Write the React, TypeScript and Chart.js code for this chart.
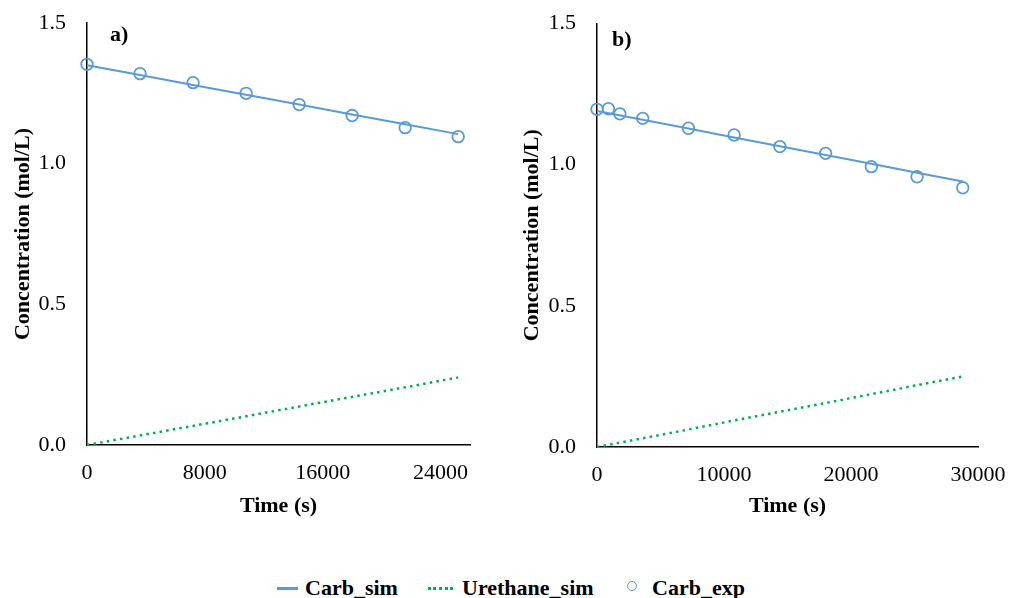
import React, { useEffect, useRef } from "react";
import { Chart, registerables } from "chart.js";

Chart.register(...registerables);

// Panel a)
const timeExpA = [0, 3600, 7200, 10800, 14400, 18000, 21600, 25200];
const carbExpA = [1.353, 1.32, 1.288, 1.25, 1.21, 1.171, 1.128, 1.096];
const timeSimA = [0, 3600, 7200, 10800, 14400, 18000, 21600, 25200];
const carbSimA = [1.35, 1.315, 1.28, 1.245, 1.21, 1.175, 1.14, 1.105];
const urethaneSimA = [0, 0.034, 0.068, 0.102, 0.137, 0.171, 0.205, 0.24];
const xTicksA = [0, 8000, 16000, 24000];

// Panel b)
const timeExpB = [0, 900, 1800, 3600, 7200, 10800, 14400, 18000, 21600, 25200, 28800];
const carbExpB = [1.196, 1.198, 1.18, 1.164, 1.129, 1.105, 1.064, 1.04, 0.993, 0.957, 0.918];
const timeSimB = [0, 3600, 7200, 10800, 14400, 18000, 21600, 25200, 28800];
const carbSimB = [1.19, 1.159, 1.128, 1.096, 1.065, 1.034, 1.003, 0.971, 0.94];
const urethaneSimB = [0, 0.031, 0.062, 0.094, 0.125, 0.156, 0.187, 0.219, 0.25];
const xTicksB = [0, 10000, 20000, 30000];

const yTicks = [0, 0.5, 1.0, 1.5];

const BLUE = "#5B9BD5";
const GREEN = "#00B050";
const FONT = "'Liberation Serif', 'Times New Roman', serif";

type PanelCfg = {
  timeExp: number[];
  carbExp: number[];
  timeSim: number[];
  carbSim: number[];
  urethane: number[];
  xTicks: number[];
  xMax: number;
  yAxisWidth: number;
  xAxisHeight: number;
  padTop: number;
  padRight: number;
  yTitlePad: number;
};

const toPts = (xs: number[], ys: number[]) => xs.map((x, i) => ({ x, y: ys[i] }));

function Panel({ cfg, left }: { cfg: PanelCfg; left: number }) {
  const ref = useRef<HTMLCanvasElement | null>(null);
  useEffect(() => {
    if (!ref.current) return;
    const chart = new Chart(ref.current, {
      type: "scatter",
      data: {
        datasets: [
          {
            label: "Carb_sim",
            data: toPts(cfg.timeSim, cfg.carbSim),
            showLine: true,
            borderColor: BLUE,
            borderWidth: 2,
            pointRadius: 0,
            clip: false as any,
          },
          {
            label: "Urethane_sim",
            data: toPts(cfg.timeSim, cfg.urethane),
            showLine: true,
            borderColor: GREEN,
            borderWidth: 2.5,
            borderDash: [2.5, 4.2],
            pointRadius: 0,
            clip: false as any,
          },
          {
            label: "Carb_exp",
            data: toPts(cfg.timeExp, cfg.carbExp),
            showLine: false,
            borderColor: BLUE,
            backgroundColor: "rgba(0,0,0,0)",
            pointBorderColor: BLUE,
            pointBackgroundColor: "rgba(0,0,0,0)",
            pointBorderWidth: 1.8,
            pointRadius: 5.8,
            clip: false as any,
          },
        ],
      },
      options: {
        animation: false,
        responsive: false,
        layout: { padding: { top: cfg.padTop, right: cfg.padRight, left: 0, bottom: 0 } },
        plugins: { legend: { display: false }, tooltip: { enabled: false } },
        scales: {
          x: {
            type: "linear",
            min: 0,
            max: cfg.xMax,
            grid: { display: false, drawTicks: false },
            border: { display: true, color: "#000", width: 1.5 },
            afterBuildTicks: (s: any) => {
              s.ticks = cfg.xTicks.map((v) => ({ value: v }));
            },
            afterFit: (s: any) => {
              s.height = cfg.xAxisHeight;
              s.paddingLeft = 0;
              s.paddingRight = 0;
            },
            ticks: {
              padding: 15,
              color: "#000",
              font: { family: FONT, size: 22 },
              callback: (v: any) => String(v),
              maxRotation: 0,
            },
            title: {
              display: true,
              text: "Time (s)",
              color: "#000",
              font: { family: FONT, size: 22, weight: "bold" },
              padding: { top: 0, bottom: 20 },
            },
          },
          y: {
            type: "linear",
            min: 0,
            max: 1.5,
            grid: { display: false, drawTicks: false },
            border: { display: true, color: "#000", width: 1.5 },
            afterBuildTicks: (s: any) => {
              s.ticks = yTicks.map((v) => ({ value: v }));
            },
            afterFit: (s: any) => {
              s.width = cfg.yAxisWidth;
              s.paddingTop = 0;
              s.paddingBottom = 0;
            },
            ticks: {
              padding: 21,
              color: "#000",
              font: { family: FONT, size: 22 },
              callback: (v: any) => Number(v).toFixed(1),
            },
            title: {
              display: true,
              text: "Concentration (mol/L)",
              color: "#000",
              font: { family: FONT, size: 22, weight: "bold" },
              padding: { top: cfg.yTitlePad, bottom: 0 },
            },
          },
        },
      },
    });
    return () => chart.destroy();
  }, [cfg]);
  return (
    <canvas
      ref={ref}
      width={505}
      height={540}
      style={{ position: "absolute", left, top: 0, width: 505, height: 540, display: "block" }}
    />
  );
}

const cfgA: PanelCfg = {
  timeExp: timeExpA,
  carbExp: carbExpA,
  timeSim: timeSimA,
  carbSim: carbSimA,
  urethane: urethaneSimA,
  xTicks: xTicksA,
  xMax: 26000,
  yAxisWidth: 87,
  xAxisHeight: 95,
  padTop: 23,
  padRight: 35,
  yTitlePad: 10,
};

const cfgB: PanelCfg = {
  timeExp: timeExpB,
  carbExp: carbExpB,
  timeSim: timeSimB,
  carbSim: carbSimB,
  urethane: urethaneSimB,
  xTicks: xTicksB,
  xMax: 30000,
  yAxisWidth: 92,
  xAxisHeight: 93,
  padTop: 23.5,
  padRight: 32,
  yTitlePad: 14,
};

const textStyle: React.CSSProperties = {
  position: "absolute",
  fontFamily: FONT,
  fontSize: 22,
  fontWeight: "bold",
  lineHeight: "22px",
  color: "#000",
  whiteSpace: "nowrap",
};

export default function App() {
  return (
    <div
      style={{
        position: "fixed",
        left: 0,
        top: 0,
        width: 1010,
        height: 598,
        background: "#fff",
        overflow: "hidden",
      }}
    >
      <Panel cfg={cfgA} left={0} />
      <Panel cfg={cfgB} left={505} />
      <div style={{ ...textStyle, left: 110, top: 23 }}>a)</div>
      <div style={{ ...textStyle, left: 612, top: 28 }}>b)</div>
      {/* legend */}
      <div style={{ position: "absolute", left: 277, top: 586.5, width: 21, height: 3, background: BLUE }} />
      <div style={{ ...textStyle, left: 305, top: 577 }}>Carb_sim</div>
      <div
        style={{
          position: "absolute",
          left: 428,
          top: 587,
          width: 25,
          height: 0,
          borderTop: `3px dotted ${GREEN}`,
        }}
      />
      <div style={{ ...textStyle, left: 462, top: 577 }}>Urethane_sim</div>
      <div
        style={{
          position: "absolute",
          left: 627,
          top: 580.5,
          width: 8,
          height: 8,
          borderRadius: "50%",
          border: `1.5px solid ${BLUE}`,
        }}
      />
      <div style={{ ...textStyle, left: 652, top: 577 }}>Carb_exp</div>
    </div>
  );
}
